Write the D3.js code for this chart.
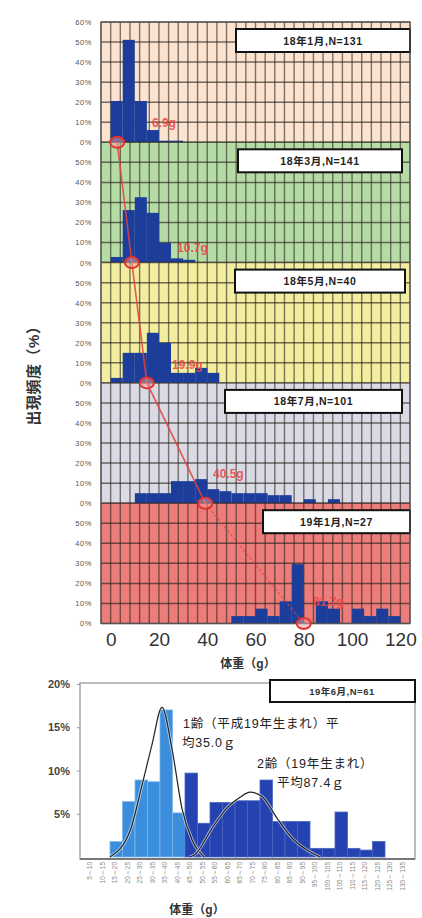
<!DOCTYPE html>
<meta charset="utf-8">
<style>
body { margin: 0; background: #fff; }
text { font-family: "Liberation Sans", "Noto Sans CJK JP", sans-serif; }
</style>
<script src="https://d3js.org/d3.v7.min.js"></script>
<body>
<script>

// ---- top chart: monthly weight histograms (5 g bins, % of fish) ----
var binStart = [0,5,10,15,20,25,30,35,40,45,50,55,60,65,70,75,80,85,90,95,100,105,110,115];
var panelTitles = ["18年1月,N=131", "18年3月,N=141", "18年5月,N=40", "18年7月,N=101", "19年1月,N=27"];
var jan18 = [20.6,51.1,20.6,6.1,0.8,0.8,0,0,0,0,0,0,0,0,0,0,0,0,0,0,0,0,0,0];
var mar18 = [2.8,26.2,32.6,24.8,9.9,2.1,1.4,0,0,0,0,0,0,0,0,0,0,0,0,0,0,0,0,0];
var may18 = [2.5,15,15,25,20,5,5,7.5,5,0,0,0,0,0,0,0,0,0,0,0,0,0,0,0];
var jul18 = [0,0,5,5,5,11,11,12,7,6,5,5,5,4,4,0,2,0,2,0,0,0,0,0];
var jan19 = [0,0,0,0,0,0,0,0,0,0,3.7,3.7,7.4,3.7,11.1,29.6,0,11.1,7.4,0,7.4,3.7,7.4,3.7];
var topSeries = [jan18, mar18, may18, jul18, jan19];
var meanLabels = ["6.9g", "10.7g", "19.9g", "40.5g", "81.7g"];
var meanMarkG = [2.7, 8.8, 15.0, 39.2, 80.0];
var topTicksX = [0,20,40,60,80,100,120];
var topTicksY = [0,10,20,30,40,50];

// ---- bottom chart: 19年6月 histogram ----
var botBins = ["5～10","10～15","15～20","20～25","25～30","30～35","35～40","40～45","45～50","50～55",
  "55～60","60～65","65～70","70～75","75～80","80～85","85～90","90～95","95～100","100～105",
  "105～110","110～115","115～120","120～125","125～130","130～135"];
var age1 = [0,0,1.8,6.4,8.9,8.7,17.0,5.1,0,0,0,0,0,0,0,0,0,0,0,0,0,0,0,0,0,0];
var age2 = [0,0,0,0,0,0,0,0,9.7,3.9,6.3,6.3,6.5,6.5,8.9,4.1,4.1,4.1,1.0,1.0,5.2,1.0,0.8,1.8,0,0];
var fit1 = [[15,0],[23,3.0],[27.8,8.3],[31.8,13.0],[35.8,17.3],[39.8,12.5],[43.8,5.6],[47.8,2.0],[52.6,0]];
var fit2 = [[47,0],[49,0.3],[56.2,3.5],[62.2,5.8],[67,6.9],[71,7.5],[75.8,7.0],[81.8,4.5],[87.8,2.2],[93.8,0.8],[99,0]];
var botTicksY = [5,10,15,20];

// layout / style
var panelFill = ["#fbe3cf", "#b6dca6", "#f3ee9f", "#d9dae3", "#ec7d7a"];
var boxX = [[236,410],[238,402],[235,405],[225,402],[263,410]];
var labelPos = [[17.1,7.6],[27.5,5.3],[25.4,6.9],[42.4,12.6],[83.8,8.7]];
var barBlue = "#1c3d9a";

var svg = d3.select("body").append("svg").attr("width", 422).attr("height", 918);

var x = d3.scaleLinear().domain([-4, 124]).range([101, 410]);
var panelH = 120.3, top0 = 22;
var ys = [];

panelTitles.forEach(function(title, i) {
  var y = d3.scaleLinear().domain([0, 60]).range([top0 + (i + 1) * panelH, top0 + i * panelH]);
  ys.push(y);
  var g = svg.append("g");
  g.append("rect")
    .attr("x", x(-4)).attr("y", y(60))
    .attr("width", x(124) - x(-4)).attr("height", y(0) - y(60))
    .attr("fill", panelFill[i]);

  g.selectAll(".v").data(d3.range(-4, 125, 4)).enter().append("line")
    .attr("x1", d => x(d)).attr("x2", d => x(d))
    .attr("y1", y(60)).attr("y2", y(0))
    .attr("stroke", "#2a2420").attr("stroke-opacity", 0.6).attr("stroke-width", 1.4);
  g.selectAll(".h").data(d3.range(0, 61, 10)).enter().append("line")
    .attr("x1", x(-4)).attr("x2", x(124))
    .attr("y1", d => y(d)).attr("y2", d => y(d))
    .attr("stroke", "#2a2420").attr("stroke-opacity", 0.65).attr("stroke-width", 1.5);

  var s = topSeries[i];
  g.selectAll(".bar").data(binStart.filter((b, j) => s[j] > 0)).enter().append("rect")
    .attr("x", d => x(d)).attr("width", d => x(d + 5) - x(d))
    .attr("y", d => y(s[binStart.indexOf(d)]))
    .attr("height", d => y(0) - y(s[binStart.indexOf(d)]))
    .attr("fill", barBlue);

  var ay = g.append("g").attr("transform", "translate(" + x(-4) + ",0)")
    .call(d3.axisLeft(y).tickValues(i == 0 ? topTicksY.concat([60]) : topTicksY)
      .tickFormat(d => d + "%").tickSize(0).tickPadding(9));
  ay.select(".domain").remove();
  ay.selectAll("text").attr("font-size", 7.5).attr("fill", "#555").attr("letter-spacing", 0.6)
    .style("font-family", "Liberation Sans");

  // title box
  g.append("rect").attr("x", boxX[i][0]).attr("y", y(60) + 7)
    .attr("width", boxX[i][1] - boxX[i][0]).attr("height", 23)
    .attr("fill", "#fff").attr("stroke", "#111").attr("stroke-width", 2);
  g.append("text").attr("x", (boxX[i][0] + boxX[i][1]) / 2).attr("y", y(60) + 22.5)
    .attr("text-anchor", "middle").attr("font-size", 10.5).attr("font-weight", "bold")
    .attr("letter-spacing", 0.6).attr("fill", "#222").text(title);
});

// outer frame
svg.append("rect").attr("x", x(-4)).attr("y", top0).attr("width", x(124) - x(-4))
  .attr("height", panelH * 5).attr("fill", "none").attr("stroke", "#555").attr("stroke-width", 1.2);

// red mean track
var pts = meanMarkG.map((m, i) => [x(m), ys[i](0)]);
svg.append("path").datum(pts.slice(0, 4)).attr("d", d3.line())
  .attr("fill", "none").attr("stroke", "#e8403c").attr("stroke-width", 1.6).attr("stroke-opacity", 0.85);
svg.append("path").datum(pts.slice(3)).attr("d", d3.line())
  .attr("fill", "none").attr("stroke", "#e8403c").attr("stroke-width", 1.1)
  .attr("stroke-dasharray", "3,2").attr("stroke-opacity", 0.8);
svg.selectAll(".mk").data(pts).enter().append("ellipse")
  .attr("cx", d => d[0]).attr("cy", d => d[1]).attr("rx", 7).attr("ry", 5.5)
  .attr("fill", "#f4a0a0").attr("fill-opacity", 0.5)
  .attr("stroke", "#e2332f").attr("stroke-width", 2);
svg.selectAll(".ml").data(meanLabels).enter().append("text")
  .attr("x", (d, i) => x(labelPos[i][0])).attr("y", (d, i) => ys[i](labelPos[i][1]))
  .attr("font-size", 12).attr("font-weight", "bold").attr("fill", "#ea4743")
  .attr("fill-opacity", 0.9).text(d => d);

// x axis of top chart
var ax = svg.append("g").attr("transform", "translate(0," + ys[4](0) + ")")
  .call(d3.axisBottom(x).tickValues(topTicksX).tickSize(0).tickPadding(9));
ax.select(".domain").remove();
ax.selectAll("text").attr("font-size", 19).attr("fill", "#333").style("font-family", "Liberation Sans");

svg.append("text").attr("x", 248).attr("y", 668).attr("text-anchor", "middle")
  .attr("font-size", 12).attr("font-weight", "bold").attr("fill", "#333").text("体重（g）");
svg.append("text").attr("transform", "translate(39,372) rotate(-90)").attr("text-anchor", "middle")
  .attr("font-size", 15).attr("font-weight", "bold").attr("letter-spacing", 0.5).attr("fill", "#333")
  .text("出現頻度（%）");

// ---- bottom chart ----
var xb = d3.scaleBand().domain(botBins).range([85, 410]);
var xl = d3.scaleLinear().domain([5, 135]).range([85, 410]);
var yb = d3.scaleLinear().domain([0, 20]).range([857, 684]);

svg.append("rect").attr("x", 80).attr("y", 683).attr("width", 335).attr("height", 176)
  .attr("fill", "#fff").attr("stroke", "#999").attr("stroke-width", 1.3);

svg.selectAll(".b1").data(botBins.filter((b, j) => age1[j] > 0)).enter().append("rect")
  .attr("x", d => xb(d)).attr("width", xb.bandwidth())
  .attr("y", d => yb(age1[botBins.indexOf(d)])).attr("height", d => yb(0) - yb(age1[botBins.indexOf(d)]))
  .attr("fill", "#3a8edc").attr("stroke", "#7fb8ec").attr("stroke-width", 0.8);
svg.selectAll(".b2").data(botBins.filter((b, j) => age2[j] > 0)).enter().append("rect")
  .attr("x", d => xb(d)).attr("width", xb.bandwidth())
  .attr("y", d => yb(age2[botBins.indexOf(d)])).attr("height", d => yb(0) - yb(age2[botBins.indexOf(d)]))
  .attr("fill", "#2543b0").attr("stroke", "#4a66c4").attr("stroke-width", 0.8);

var fitLine = d3.line().x(d => xl(d[0])).y(d => yb(d[1])).curve(d3.curveMonotoneX);
[fit1, fit2].forEach(function(f) {
  svg.append("path").datum(f).attr("d", fitLine).attr("fill", "none")
    .attr("stroke", "#fff").attr("stroke-width", 3).attr("stroke-opacity", 0.6);
  svg.append("path").datum(f).attr("d", fitLine).attr("fill", "none")
    .attr("stroke", "#222").attr("stroke-width", 1.2);
});

svg.append("line").attr("x1", 80).attr("x2", 415).attr("y1", 859).attr("y2", 859)
  .attr("stroke", "#777").attr("stroke-width", 2);

var ayb = svg.append("g").attr("transform", "translate(80,0)")
  .call(d3.axisLeft(yb).tickValues(botTicksY).tickFormat(d => d + "%").tickSize(3).tickPadding(7));
ayb.select(".domain").remove();
ayb.selectAll("line").attr("stroke", "#999");
ayb.selectAll("text").attr("font-size", 11).attr("font-weight", "bold").attr("fill", "#444")
  .style("font-family", "Liberation Sans");

var axb = svg.append("g").attr("transform", "translate(0,860)")
  .call(d3.axisBottom(xb).tickSize(0).tickPadding(3));
axb.select(".domain").remove();
axb.selectAll("text").attr("font-size", 6.5).attr("fill", "#888")
  .attr("text-anchor", "end").attr("dx", "-0.3em").attr("dy", "-0.3em")
  .attr("transform", "rotate(-90)").style("font-family", "Liberation Sans");

svg.append("rect").attr("x", 270).attr("y", 680).attr("width", 145).attr("height", 22)
  .attr("fill", "#fff").attr("stroke", "#111").attr("stroke-width", 2);
svg.append("text").attr("x", 342).attr("y", 695).attr("text-anchor", "middle")
  .attr("font-size", 9.5).attr("font-weight", "bold").attr("letter-spacing", 0.5).attr("fill", "#333")
  .text("19年6月,N=61");

var notes = [["1齢（平成19年生まれ）平", 183, 728], ["均35.0ｇ", 182, 747],
             ["2齢（19年生まれ）", 257, 768], ["平均87.4ｇ", 277, 787]];
svg.selectAll(".note").data(notes).enter().append("text")
  .attr("x", d => d[1]).attr("y", d => d[2])
  .attr("font-size", 12.5).attr("letter-spacing", 0.8).attr("fill", "#222").text(d => d[0]);

svg.append("text").attr("x", 197).attr("y", 914).attr("text-anchor", "middle")
  .attr("font-size", 12).attr("font-weight", "bold").attr("fill", "#333").text("体重（g）");

</script>
</body>
